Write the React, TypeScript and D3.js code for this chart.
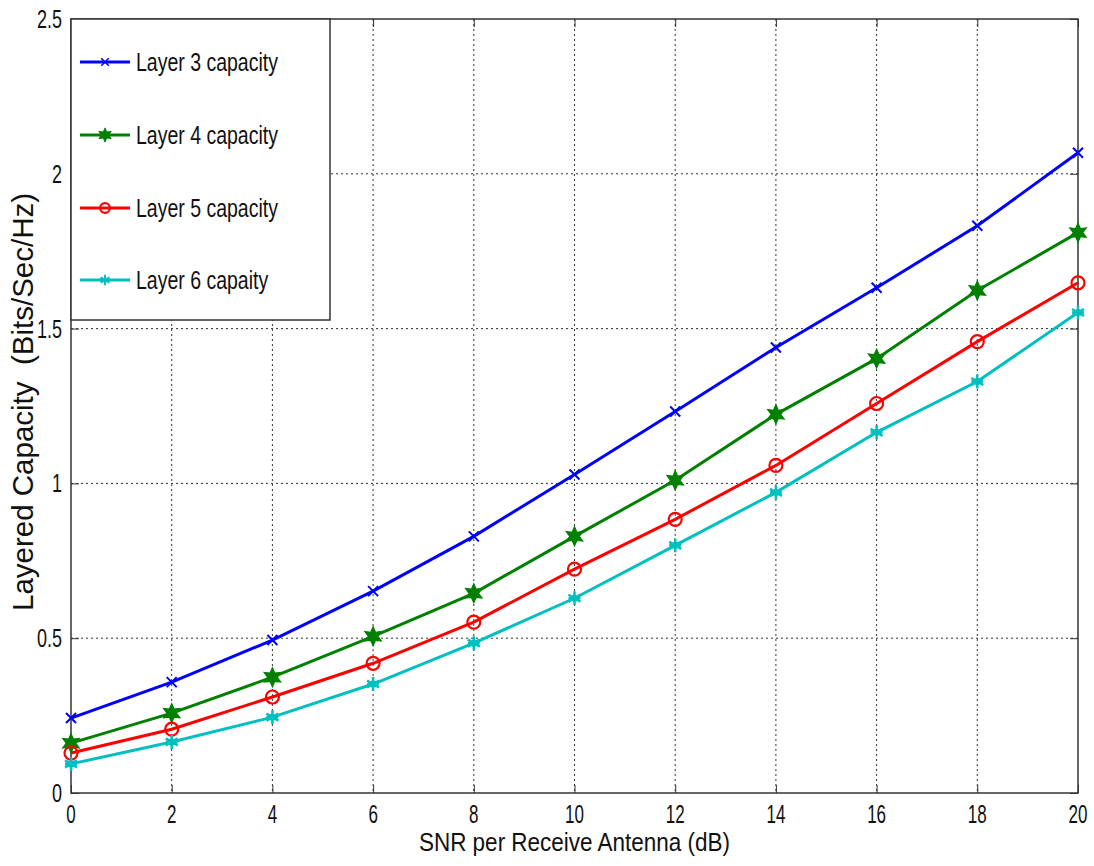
import { useEffect, useRef } from 'react';
import * as d3 from 'd3';

const snr = [0, 2, 4, 6, 8, 10, 12, 14, 16, 18, 20];
const layer3 = [0.242, 0.358, 0.494, 0.652, 0.829, 1.029, 1.232, 1.439, 1.632, 1.832, 2.068];
const layer4 = [0.161, 0.258, 0.374, 0.506, 0.645, 0.829, 1.01, 1.223, 1.403, 1.623, 1.81];
const layer5 = [0.129, 0.206, 0.31, 0.419, 0.552, 0.723, 0.884, 1.058, 1.258, 1.458, 1.648];
const layer6 = [0.094, 0.165, 0.245, 0.352, 0.484, 0.629, 0.8, 0.971, 1.165, 1.329, 1.552];
const seriesNames = ['Layer 3 capacity', 'Layer 4 capacity', 'Layer 5 capacity', 'Layer 6 capaity'];
const yTicks = [0, 0.5, 1, 1.5, 2, 2.5];
const xTicks = [0, 2, 4, 6, 8, 10, 12, 14, 16, 18, 20];

export default function App() {
    const ref = useRef(null);

    useEffect(() => {
        const width = 1094;
        const height = 866;
        const left = 71, right = 1078, top = 19, bottom = 793;
        const font = "'Liberation Sans', Arial, sans-serif";

        const svg = d3.select(ref.current);
        svg.selectAll('*').remove();
        svg.append('rect').attr('width', width).attr('height', height).attr('fill', 'white');

        const x = d3.scaleLinear().domain([0, 20]).range([left, right]);
        const y = d3.scaleLinear().domain([0, 2.5]).range([bottom, top]);

        // narrow text helper (the original uses a condensed face)
        const narrowText = function(parent, tx, ty, sx, size, anchor, str) {
            return parent.append('g')
                .attr('transform', 'translate(' + tx + ',' + ty + ') scale(' + sx + ',1)')
                .append('text')
                .attr('text-anchor', anchor)
                .attr('font-family', font).attr('font-size', size).attr('fill', '#111')
                .text(str);
        };

        // grid
        const grid = svg.append('g');
        xTicks.slice(1, -1).forEach(function(t) {
            grid.append('line')
                .attr('x1', x(t)).attr('x2', x(t)).attr('y1', top).attr('y2', bottom)
                .attr('stroke', '#333').attr('stroke-width', 1).attr('stroke-dasharray', '2,3');
        });
        yTicks.slice(1, -1).forEach(function(t) {
            grid.append('line')
                .attr('x1', left).attr('x2', right).attr('y1', y(t)).attr('y2', y(t))
                .attr('stroke', '#333').attr('stroke-width', 1).attr('stroke-dasharray', '2,3');
        });

        // frame
        svg.append('rect')
            .attr('x', left).attr('y', top).attr('width', right - left).attr('height', bottom - top)
            .attr('fill', 'none').attr('stroke', '#333').attr('stroke-width', 1.5);

        // axes: inward ticks, labels drawn separately
        const xAxis = d3.axisBottom(x).tickValues(xTicks).tickSize(-8).tickFormat(() => '');
        const gx = svg.append('g').attr('transform', 'translate(0,' + bottom + ')').call(xAxis);
        gx.select('.domain').remove();
        gx.selectAll('line').attr('stroke', '#333');
        const gxTop = svg.append('g').attr('transform', 'translate(0,' + top + ')')
            .call(d3.axisTop(x).tickValues(xTicks).tickSize(-8).tickFormat(() => ''));
        gxTop.select('.domain').remove();
        gxTop.selectAll('line').attr('stroke', '#333');

        const yAxis = d3.axisLeft(y).tickValues(yTicks).tickSize(-8).tickFormat(() => '');
        const gy = svg.append('g').attr('transform', 'translate(' + left + ',0)').call(yAxis);
        gy.select('.domain').remove();
        gy.selectAll('line').attr('stroke', '#333');
        const gyRight = svg.append('g').attr('transform', 'translate(' + right + ',0)')
            .call(d3.axisRight(y).tickValues(yTicks).tickSize(-8).tickFormat(() => ''));
        gyRight.select('.domain').remove();
        gyRight.selectAll('line').attr('stroke', '#333');

        const labels = svg.append('g');
        xTicks.forEach(function(t) {
            narrowText(labels, x(t), 823, 0.68, 25, 'middle', d3.format('d')(t));
        });
        yTicks.forEach(function(t) {
            narrowText(labels, 62, y(t) + 9, 0.72, 25, 'end', d3.format('~g')(t));
        });

        // axis titles
        narrowText(svg, (left + right) / 2, 851, 0.9, 25, 'middle', 'SNR per Receive Antenna (dB)');
        svg.append('text')
            .attr('transform', 'translate(33,402) rotate(-90)')
            .attr('text-anchor', 'middle')
            .attr('font-family', font).attr('font-size', 29.5).attr('fill', '#111')
            .attr('xml:space', 'preserve')
            .text('Layered Capacity  (Bits/Sec/Hz)');

        // markers
        const hexagram = function(r) {
            const pts = [];
            for (let i = 0; i < 12; i++) {
                const a = -Math.PI / 2 + i * Math.PI / 6;
                const rr = i % 2 === 0 ? r : r * 0.5;
                pts.push([rr * Math.cos(a), rr * Math.sin(a)]);
            }
            return 'M' + pts.map(p => p.join(',')).join('L') + 'Z';
        };
        const drawMarker = function(g, kind, cx, cy, color, k) {
            const tr = 'translate(' + cx + ',' + cy + ') scale(' + k + ')';
            if (kind === 'x') {
                g.append('path').attr('d', 'M-5,-5L5,5M-5,5L5,-5')
                    .attr('transform', tr)
                    .attr('stroke', color).attr('stroke-width', 2).attr('fill', 'none');
            } else if (kind === 'hex') {
                g.append('path').attr('d', hexagram(9.5))
                    .attr('transform', tr)
                    .attr('fill', color).attr('stroke', color).attr('stroke-width', 1.2);
            } else if (kind === 'o') {
                g.append('circle').attr('cx', cx).attr('cy', cy).attr('r', 6.5 * k)
                    .attr('fill', 'none').attr('stroke', color).attr('stroke-width', 2.2);
            } else {
                g.append('path').attr('d', 'M0,-7L0,7M-6,-3.5L6,3.5M-6,3.5L6,-3.5M-6,0L6,0')
                    .attr('transform', tr)
                    .attr('stroke', color).attr('stroke-width', 2.5).attr('fill', 'none');
                g.append('circle').attr('cx', cx).attr('cy', cy).attr('r', 3.5 * k).attr('fill', color);
            }
        };

        const series = [
            { name: seriesNames[0], values: layer3, color: '#0000ff', marker: 'x' },
            { name: seriesNames[1], values: layer4, color: '#008000', marker: 'hex' },
            { name: seriesNames[2], values: layer5, color: '#ff0000', marker: 'o' },
            { name: seriesNames[3], values: layer6, color: '#00bfbf', marker: '*' }
        ];

        const line = d3.line().x(d => x(d[0])).y(d => y(d[1]));
        series.forEach(function(s) {
            const pts = snr.map((v, i) => [v, s.values[i]]);
            const g = svg.append('g');
            g.append('path').attr('d', line(pts))
                .attr('fill', 'none').attr('stroke', s.color).attr('stroke-width', 3);
            pts.forEach(function(p) {
                drawMarker(g, s.marker, x(p[0]), y(p[1]), s.color, 1);
            });
        });

        // legend
        const lg = svg.append('g');
        lg.append('rect')
            .attr('x', left).attr('y', top).attr('width', 259).attr('height', 301)
            .attr('fill', 'white').attr('stroke', '#333').attr('stroke-width', 1.5);
        const rowY = [62, 135, 208, 280];
        series.forEach(function(s, i) {
            lg.append('line').attr('x1', 80).attr('x2', 130).attr('y1', rowY[i]).attr('y2', rowY[i])
                .attr('stroke', s.color).attr('stroke-width', 3);
            drawMarker(lg, s.marker, 105, rowY[i], s.color, 0.75);
            narrowText(lg, 136, rowY[i] + 9, 0.75, 26, 'start', s.name);
        });
    }, []);

    return (
        <svg ref={ref} width={1094} height={866}
            style={{ position: 'absolute', left: 0, top: 0, display: 'block' }} />
    );
}
